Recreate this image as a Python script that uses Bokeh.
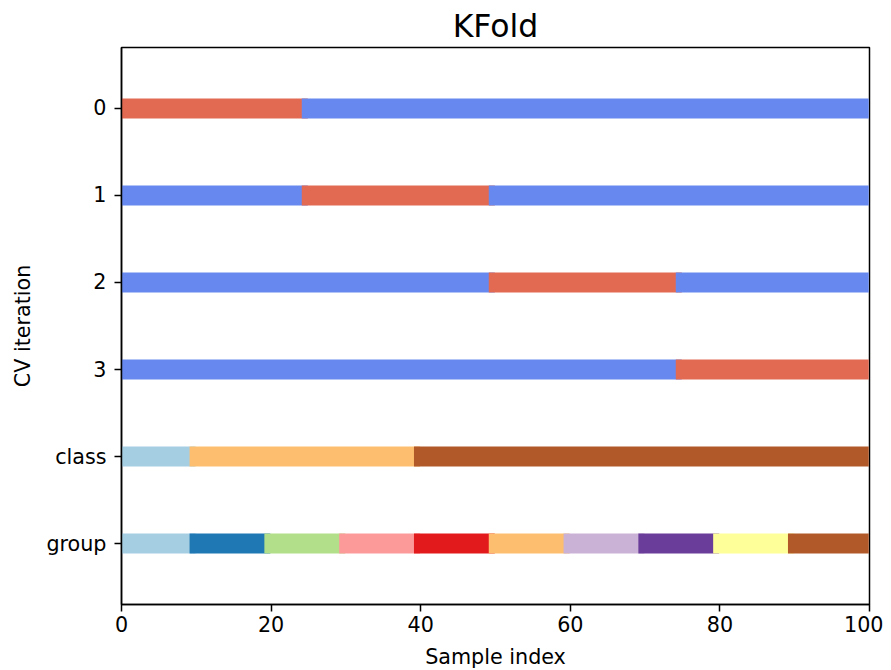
import numpy as np
from bokeh.plotting import figure
from bokeh.models import Range1d, FixedTicker, ColumnDataSource
from bokeh.embed import file_html
from bokeh.resources import INLINE

# ---- data ----
n_samples = 100
fold_sizes = [25, 25, 25, 25]
class_sizes = [10, 30, 60]
group_sizes = [10, 10, 10, 10, 10, 10, 10, 10, 10, 10]
row_labels = ["0", "1", "2", "3", "class", "group"]
x_ticks = [0, 20, 40, 60, 80, 100]

train_color = "#6788ee"
test_color = "#e26a53"
class_colors = ["#a6cee3", "#fdbf6f", "#b15928"]
group_colors = ["#a6cee3", "#1f78b4", "#b2df8a", "#fb9a99", "#e31a1c",
                "#fdbf6f", "#cab2d6", "#6a3d9a", "#ffff99", "#b15928"]

half_w = 0.9      # half width of each sample marker (in sample units)
half_h = 0.115    # half height of the bar (in row units)

# ---- build runs (start, end, row, color) ----
left, right, top, bottom, color = [], [], [], [], []

def add_run(start, end, row, c):
    left.append(start - half_w)
    right.append(end - 1 + half_w)
    top.append(row + 0.5 - half_h)
    bottom.append(row + 0.5 + half_h)
    color.append(c)

bounds = np.cumsum([0] + fold_sizes)
for k in range(len(fold_sizes)):
    s, e = bounds[k], bounds[k + 1]
    if s > 0:
        add_run(0, s, k, train_color)
    add_run(s, e, k, test_color)
    if e < n_samples:
        add_run(e, n_samples, k, train_color)

cb = np.cumsum([0] + class_sizes)
for i in range(len(class_sizes)):
    add_run(cb[i], cb[i + 1], 4, class_colors[i])

gb = np.cumsum([0] + group_sizes)
for i in range(len(group_sizes)):
    add_run(gb[i], gb[i + 1], 5, group_colors[i])

src = ColumnDataSource(dict(left=left, right=right, top=top, bottom=bottom, color=color))

FONT = "DejaVu Sans"

p = figure(output_backend="svg", toolbar_location=None,
           frame_width=748, frame_height=557,
           min_border_left=121, min_border_right=14,
           min_border_top=47, min_border_bottom=66,
           x_range=Range1d(0, n_samples), y_range=Range1d(len(row_labels) + 0.2, -0.2),
           title="KFold")

p.quad(left="left", right="right", top="top", bottom="bottom", fill_color="color",
       line_color=None, source=src)

p.title.align = "center"
p.title.text_font = FONT
p.title.text_font_size = "31.5px"
p.title.text_font_style = "normal"
p.title.text_color = "#000000"
p.title.standoff = 8

p.xgrid.visible = False
p.ygrid.visible = False
p.outline_line_color = "#000000"
p.outline_line_width = 1.5
p.outline_line_alpha = 1.0
p.background_fill_color = "white"
p.border_fill_color = "white"

for ax in (p.xaxis[0], p.yaxis[0]):
    ax.axis_line_color = "#000000"
    ax.axis_line_width = 1.5
    ax.major_tick_line_color = "#000000"
    ax.major_tick_line_width = 1.5
    ax.major_tick_out = 7
    ax.major_tick_in = 0
    ax.minor_tick_line_color = None
    ax.major_label_text_font = FONT
    ax.major_label_text_font_size = "20.7px"
    ax.major_label_text_color = "#000000"
    ax.axis_label_text_font = FONT
    ax.axis_label_text_font_size = "20.7px"
    ax.axis_label_text_font_style = "normal"
    ax.axis_label_text_color = "#000000"

p.xaxis.ticker = FixedTicker(ticks=x_ticks)
p.xaxis.axis_label = "Sample index"
p.xaxis.major_label_standoff = 4
p.xaxis.axis_label_standoff = 10

p.yaxis.ticker = FixedTicker(ticks=[i + 0.5 for i in range(len(row_labels))])
p.yaxis.major_label_overrides = {i + 0.5: lab for i, lab in enumerate(row_labels)}
p.yaxis.axis_label = "CV iteration"
p.yaxis.major_label_standoff = 8
p.yaxis.axis_label_standoff = 8

open("out.html", "w").write(file_html(p, INLINE))
